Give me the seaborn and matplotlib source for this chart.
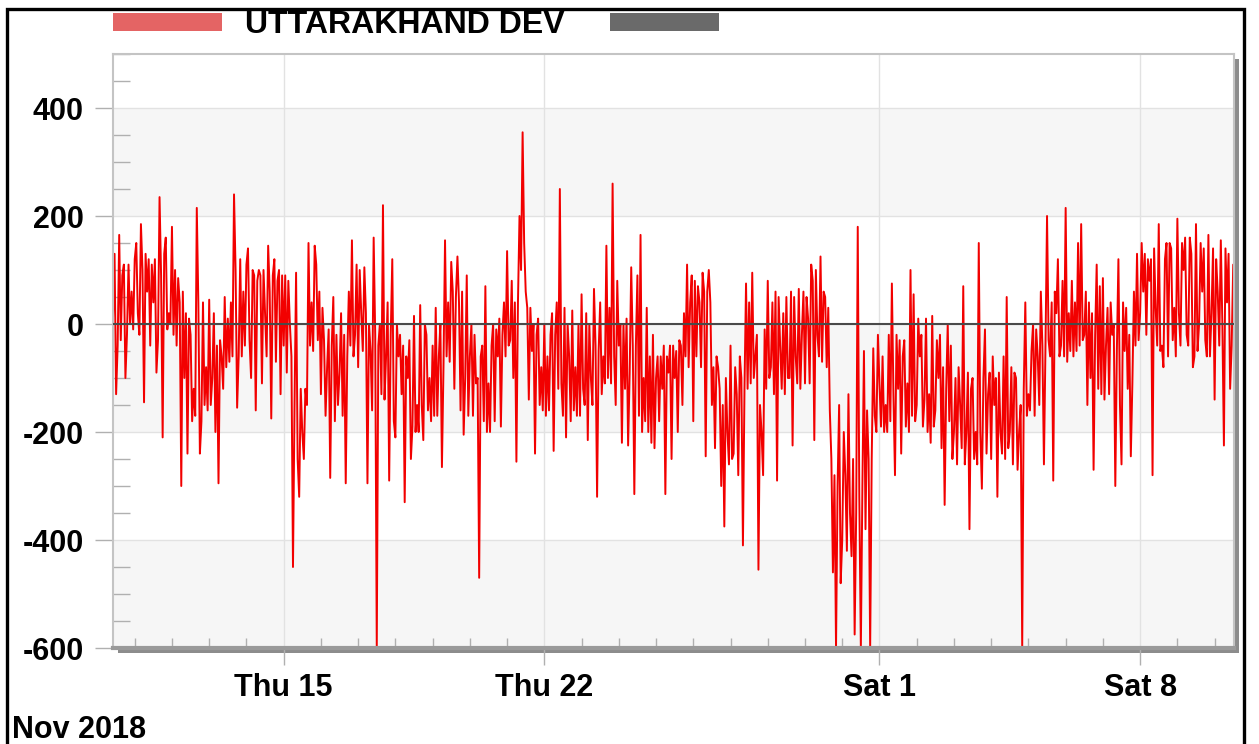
import numpy as np
import pandas as pd
import matplotlib
matplotlib.use("Agg")
import matplotlib.pyplot as plt
import matplotlib.dates as mdates
from matplotlib.patches import Rectangle, Patch
from matplotlib.ticker import MultipleLocator, FixedLocator
import seaborn as sns

# Deviation (MW) on the even hours, from 10 Nov 2018 10:00
dev_seg1 = [10, -130, 165, 90, -100, 110, 60, 120, 20, 185, -145, 60, -40, 40, -90,
            235, -210, 160, 20, 180, 100, 85, -300, -100, -240, -20, -120, 215, -240, 40,
            -80, 45, -100, -200, -295, -60, 50, 10, 40, 240, -155, 120, 60, 110, -30]
dev_seg2 = [100, -160, 100, -110, 20, 145, -175, 120, 80, -130, -40, -90, 0, -450, 95,
            -320, -200, -120, 150, 40, 145, -30, -130, -30, -80, -285, 50, -20, -90, -170,
            -295, 60, 155, -20, -80, 20, 105, -295, -50, 160, -600, 0, 220, -60, -290]
dev_seg3 = [120, -210, -60, -130, -330, -100, -250, 15, -150, 35, -215, -20, -100, -40, 30,
            -60, -265, 155, 40, 115, -120, 125, -160, -205, 90, -60, -170, -110, -470, -40,
            70, -110, -40, -180, -60, -190, 40, 135, -30, -100, -255, 200, 355, 60, -140]
dev_seg4 = [-50, -240, 10, -80, 0, -60, -20, -235, 40, 250, -170, -210, -60, 25, -80,
            0, 55, -150, -215, -100, 65, -320, 40, -60, 145, 30, 260, -150, -40, -220,
            -120, -225, 105, -315, 90, 165, -100, 30, -60, -20, -100, -180, -120, -315, -90]
dev_seg5 = [-250, -100, -200, -40, 20, 110, 40, -180, -60, 40, 95, -245, 100, -150, -230,
            -80, -300, -375, -200, -40, -240, -130, -60, -410, 75, 40, 95, -60, -455, -200,
            -10, 80, -80, -130, -290, -40, 20, 50, -100, -225, -60, 65, -20, -110, 10]
dev_seg6 = [110, -215, -20, 125, 60, -80, -160, -460, -600, -150, -400, -280, -130, -430, -575,
            180, -600, -50, -160, -600, -45, -200, -110, -60, -150, -20, 75, -280, -120, -240,
            -30, -110, 100, 55, -150, -60, -190, 10, -130, 15, -160, -100, -230, -335, 0]
dev_seg7 = [-40, -200, -260, -150, 70, -200, -380, -100, -200, 150, -305, -10, -130, -250, -150,
            -320, -200, -60, 50, -200, -260, -100, -200, -600, 40, -130, -50, -170, -60, 60,
            -260, 200, -60, -290, 20, -60, 80, 215, 20, 80, 40, 150, 185, -20, -150]
dev_seg8 = [-100, -270, 110, 70, 85, -40, -130, -20, -300, 120, -260, -50, -120, -245, 60,
            130, 20, 60, -20, 80, -280, 30, 185, -40, 120, -60, 140, 30, 195, -40,
            100, -20, 160, -80, 185, 0, 60, -30, 165, 20, -140, 60, 155, -225, 40,
            -120, 110]

# Deviation (MW) on the odd hours in between
mid_seg1 = [130, -40, -30, 110, -20, 0, -10, 150, -20, 100, 130, 120, 110, 120, -30,
            90, 130, -10, 0, -20, -40, 40, 60, 20, 10, -180, -170, 40, -180, -150,
            -160, -150, 20, -40, -30, -120, -80, -70, -60, 100, -60, -60, -40, 140, -100]
mid_seg2 = [90, 80, 90, 100, -60, 60, 90, -70, 100, 90, 90, 80, -60, -150, -250,
            -120, -250, -150, -40, -50, 110, 60, 30, -170, -10, -40, -180, -150, 20, -20,
            -60, -40, -60, 110, 100, -50, 20, 0, -160, -20, -40, -130, -140, 40, -20]
mid_seg3 = [-180, 0, -20, -40, -60, -30, -190, -200, -200, -150, 0, -160, -180, -170, -170,
            0, -80, -60, -70, 60, 50, 40, 60, -100, -170, 0, -20, -100, -60, -180,
            -200, -200, 0, -10, 10, -20, -60, -40, 80, 40, 40, 100, 150, 30, 30]
mid_seg4 = [0, -20, -150, -160, -170, -160, 20, -20, -120, -110, 30, 0, -180, -160, -170,
            -170, -120, 20, 0, -150, -40, -50, -130, -110, -100, -110, -60, 80, 0, 0,
            10, -90, -40, -40, -170, -200, -180, -200, -220, -230, -60, -60, -40, -60, -40]
mid_seg5 = [-40, -50, -30, -150, -60, -80, 90, 80, 70, -80, 60, 60, 40, -80, -60,
            -120, -150, -100, -260, -250, -80, -280, -100, -120, -120, -110, -100, -20, -150, -280,
            -120, -100, 40, 60, 50, -120, -130, -100, 60, 50, -110, -120, 60, 50, -110]
mid_seg6 = [80, 100, -60, -70, 50, 30, -250, -280, -300, -480, -200, -420, -350, -250, -350,
            -320, -300, -380, -250, -250, -170, -20, -190, -200, -200, -180, -130, -20, -30, -60,
            -190, -200, -170, -180, 10, -20, -140, -200, -220, -190, -30, -20, -80, -120, -180]
mid_seg7 = [-250, -100, -80, -230, -260, -90, -120, -250, -260, -200, -100, -240, -90, -60, -100,
            -90, -240, -250, -230, -80, -90, -270, -150, -120, -170, -160, 0, -10, -150, -40,
            -40, -30, 40, 60, 120, -40, -60, -70, -50, -60, -50, -40, -30, 60, 40]
mid_seg8 = [20, -20, -120, -130, -140, 30, 40, 0, -50, -150, 40, 30, -20, -110, -40,
            -30, 150, 130, 120, 120, 140, -40, -50, -80, 150, 150, -30, -60, 20, 150,
            160, -40, 130, -60, -50, 150, 140, -60, -60, 140, 120, -40, 0, 140, 130,
            -40]

series_name = "UTTARAKHAND DEV"
y_ticks = [-600, -400, -200, 0, 200, 400]
x_major_dates = ["2018-11-15", "2018-11-22", "2018-12-01", "2018-12-08"]
x_major_labels = ["Thu 15", "Thu 22", "Sat 1", "Sat 8"]
period_label = "Nov 2018"

even_hours = (dev_seg1 + dev_seg2 + dev_seg3 + dev_seg4 +
              dev_seg5 + dev_seg6 + dev_seg7 + dev_seg8)
odd_hours = (mid_seg1 + mid_seg2 + mid_seg3 + mid_seg4 +
             mid_seg5 + mid_seg6 + mid_seg7 + mid_seg8)

dev = []
for k, v in enumerate(even_hours):
    dev.append(v)
    if k < len(odd_hours):
        dev.append(odd_hours[k])

times = pd.date_range("2018-11-10 10:00", periods=len(dev), freq="1h")
df = pd.DataFrame({"time": times, "dev": dev})

sns.set_style("white")
plt.rcParams["font.family"] = ["Liberation Sans", "DejaVu Sans"]
plt.rcParams["font.weight"] = "bold"
plt.rcParams["text.color"] = "black"
plt.rcParams["xtick.labelcolor"] = "black"
plt.rcParams["ytick.labelcolor"] = "black"

W, H = 1259, 744
fig = plt.figure(figsize=(W / 100, H / 100), dpi=100)
fig.patch.set_facecolor("white")


def fx(px):
    return px / W


def fy(py):
    return 1 - py / H


left, right, top, bottom = 113, 1234, 54, 648
ax = fig.add_axes([fx(left), fy(bottom), fx(right) - fx(left), fy(top) - fy(bottom)])

# drop shadow behind the plot frame
fig.add_artist(Rectangle((fx(left + 5), fy(bottom + 5)), fx(right) - fx(left), fy(top) - fy(bottom),
                         transform=fig.transFigure, facecolor="#8c8c8c", edgecolor="none", zorder=-1))
# outer black border
fig.add_artist(Rectangle((fx(7), -0.05), fx(1244) - fx(7), fy(9) + 0.05, transform=fig.transFigure,
                         fill=False, edgecolor="black", linewidth=2.4, zorder=5))

# alternating horizontal bands
for lo, hi in [(200, 400), (-200, 0), (-600, -400)]:
    ax.axhspan(lo, hi, color="#f6f6f6", lw=0, zorder=0)

ax.set_axisbelow(True)
ax.grid(True, which="major", color="#e2e2e2", lw=1)

sns.lineplot(data=df, x="time", y="dev", ax=ax, color="#f20000", lw=1.4, zorder=2)
ax.axhline(0, color="#4a4a4a", lw=1.5, zorder=3)

ax.set_ylim(-600, 500)
ax.set_xlim(times[0], times[-1] + pd.Timedelta(minutes=30))
ax.set_xlabel("")
ax.set_ylabel("")

ax.yaxis.set_major_locator(FixedLocator(y_ticks))
ax.yaxis.set_minor_locator(MultipleLocator(50))
ax.set_yticklabels([str(v) for v in y_ticks])

major_nums = mdates.date2num(pd.to_datetime(x_major_dates))
ax.xaxis.set_major_locator(FixedLocator(major_nums))
ax.set_xticklabels(x_major_labels)
ax.xaxis.set_minor_locator(mdates.DayLocator())

ax.tick_params(axis="y", which="major", direction="out", length=13, width=1, color="#b0b0b0",
               pad=8, labelsize=22, labelcolor="black", left=True)
ax.tick_params(axis="y", which="minor", direction="in", length=12, width=1, color="#b0b0b0", left=True)
ax.tick_params(axis="x", which="major", direction="out", length=12, width=1, color="#b0b0b0",
               pad=6, labelsize=22, labelcolor="black", bottom=True)
ax.tick_params(axis="x", which="minor", direction="in", length=7, width=1, color="#b0b0b0", bottom=True)
for lab in ax.get_xticklabels() + ax.get_yticklabels():
    lab.set_fontweight("bold")

for side in ["top", "right", "left"]:
    ax.spines[side].set_color("#c4c4c4")
    ax.spines[side].set_linewidth(1.5)
ax.spines["bottom"].set_color("#9a9a9a")
ax.spines["bottom"].set_linewidth(3)

fig.text(fx(12), fy(738), period_label, fontsize=22, fontweight="bold", color="black",
         va="baseline", ha="left")

handles = [Patch(facecolor="#e46464", edgecolor="none"), Patch(facecolor="#6a6a6a", edgecolor="none")]
leg = fig.legend(handles, [series_name, ""], loc="center left", bbox_to_anchor=(fx(113), fy(25)),
                 ncol=2, frameon=False, prop={"size": 23, "weight": "bold"},
                 handlelength=3.42, handleheight=0.5, handletextpad=0.72, columnspacing=1.41,
                 borderpad=0, borderaxespad=0)
for t in leg.get_texts():
    t.set_color("black")

fig.savefig("out.png", dpi=100)
